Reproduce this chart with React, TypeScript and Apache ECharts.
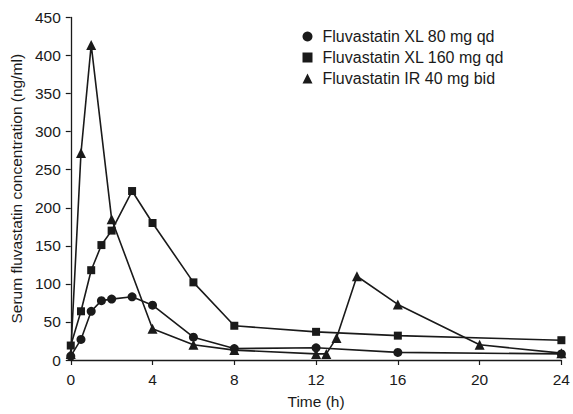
import React, { useEffect, useRef } from "react";
import * as echarts from "echarts";

const seriesNames = [
  "Fluvastatin XL 80 mg qd",
  "Fluvastatin XL 160 mg qd",
  "Fluvastatin IR 40 mg bid",
];

const xl80Times = [0, 0.5, 1, 1.5, 2, 3, 4, 6, 8, 12, 16, 24];
const xl80Values = [5, 27, 64, 78, 80, 83, 72, 30, 15, 16, 10, 8];

const xl160Times = [0, 0.5, 1, 1.5, 2, 3, 4, 6, 8, 12, 16, 24];
const xl160Values = [19, 64, 118, 151, 170, 222, 180, 102, 45, 37, 32, 26];

const irTimes = [0, 0.5, 1, 2, 4, 6, 8, 12, 12.5, 13, 14, 16, 20, 24];
const irValues = [8, 272, 414, 185, 41, 20, 13, 8, 8, 29, 110, 73, 20, 9];

const symbols = ["circle", "rect", "triangle"];
const symbolSizes = [9, 8, 10];

const pair = (t: number[], v: number[]) => t.map((x, i) => [x, v[i]]);

export default function App() {
  const ref = useRef<HTMLDivElement>(null);
  useEffect(() => {
    if (!ref.current) return;
    const chart = echarts.init(ref.current, undefined, { renderer: "svg" });
    const font = "Liberation Sans, Arial, sans-serif";
    const fs = 15.5;
    const col = "#1a1a1a";
    const datasets = [
      pair(xl80Times, xl80Values),
      pair(xl160Times, xl160Values),
      pair(irTimes, irValues),
    ];
    chart.setOption({
      animation: false,
      backgroundColor: "#fff",
      textStyle: { fontFamily: font },
      grid: { left: 70.7, top: 17.5, width: 494.4, height: 344.2 },
      legend: {
        orient: "vertical",
        left: 297.5,
        top: 23.5,
        itemWidth: 10,
        itemHeight: 10,
        itemGap: 5,
        textStyle: {
          fontSize: 16,
          lineHeight: 16,
          color: col,
          fontFamily: font,
          padding: [0, 0, 0, 5],
        },
        data: seriesNames.map((n, i) => ({ name: n, icon: symbols[i] })),
      },
      xAxis: {
        type: "value",
        min: 0,
        max: 24,
        interval: 4,
        name: "Time (h)",
        nameLocation: "middle",
        nameGap: 33,
        nameTextStyle: { fontSize: fs, color: col },
        axisLine: { lineStyle: { color: col, width: 1.3 } },
        axisTick: { length: 5, lineStyle: { color: col, width: 1.2 } },
        axisLabel: { fontSize: fs, color: col, margin: 11 },
        splitLine: { show: false },
      },
      yAxis: {
        type: "value",
        min: 0,
        max: 450,
        interval: 50,
        name: "Serum fluvastatin concentration (ng/ml)",
        nameLocation: "middle",
        nameGap: 46,
        nameTextStyle: { fontSize: fs, color: col },
        axisLine: { show: true, lineStyle: { color: col, width: 1.3 } },
        axisTick: { show: true, length: 5, lineStyle: { color: col, width: 1.2 } },
        axisLabel: { fontSize: fs, color: col, margin: 10 },
        splitLine: { show: false },
      },
      series: seriesNames.map((n, i) => ({
        name: n,
        type: "line",
        data: datasets[i],
        symbol: symbols[i],
        symbolSize: symbolSizes[i],
        showAllSymbol: true,
        lineStyle: { color: col, width: 1.6 },
        itemStyle: { color: col },
        emphasis: { disabled: true },
        z: 3 - i,
      })),
    });
    return () => chart.dispose();
  }, []);
  return (
    <div
      ref={ref}
      style={{ position: "absolute", left: 0, top: 0, width: 573, height: 414 }}
    />
  );
}
